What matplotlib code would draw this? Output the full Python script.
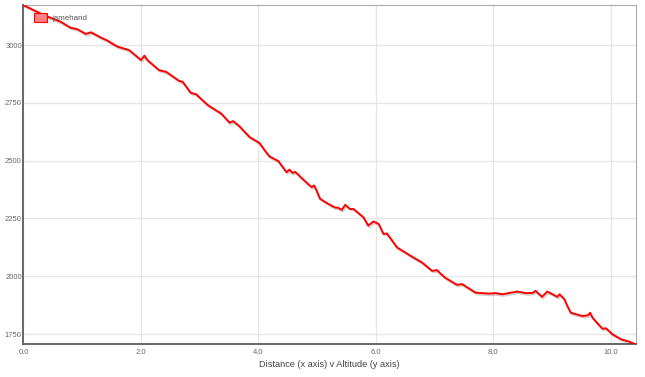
import matplotlib
matplotlib.use("Agg")
import matplotlib.pyplot as plt
import matplotlib.patheffects as pe
from matplotlib.patches import Patch

plt.rcParams['font.family'] = ['Liberation Sans', 'DejaVu Sans']

# distance (km) v altitude (m)
dist = [0.0, 0.10, 0.34, 0.63, 0.80, 0.92, 1.06, 1.15, 1.32, 1.43, 1.60, 1.80,
        2.00, 2.06, 2.11, 2.31, 2.43, 2.65, 2.71, 2.85, 2.94, 3.14, 3.37, 3.51,
        3.57, 3.68, 3.85, 4.02, 4.11, 4.19, 4.34, 4.48, 4.53, 4.58, 4.63, 4.79,
        4.91, 4.95, 4.99, 5.05, 5.19, 5.30, 5.36, 5.42, 5.48, 5.56, 5.62, 5.79,
        5.87, 5.96, 6.05, 6.13, 6.19, 6.36, 6.50, 6.64, 6.79, 6.96, 7.04, 7.10,
        7.18, 7.27, 7.38, 7.47, 7.70, 7.93, 8.04, 8.15, 8.41, 8.55, 8.67, 8.72,
        8.83, 8.92, 9.09, 9.13, 9.21, 9.26, 9.32, 9.52, 9.61, 9.65, 9.69, 9.78,
        9.86, 9.92, 10.03, 10.18, 10.32, 10.43]
alt = [3172, 3160, 3130, 3101, 3075, 3068, 3048, 3055, 3032, 3019, 2993, 2978,
       2935, 2954, 2935, 2891, 2884, 2845, 2841, 2793, 2787, 2740, 2703, 2664,
       2671, 2648, 2602, 2576, 2544, 2518, 2498, 2450, 2461, 2447, 2451, 2412,
       2385, 2393, 2371, 2335, 2313, 2298, 2296, 2287, 2309, 2291, 2291, 2255,
       2219, 2237, 2226, 2183, 2185, 2125, 2103, 2081, 2059, 2023, 2027, 2012,
       1994, 1980, 1963, 1966, 1929, 1925, 1927, 1922, 1934, 1927, 1928, 1937,
       1911, 1934, 1911, 1922, 1901, 1872, 1842, 1828, 1831, 1842, 1821, 1795,
       1773, 1775, 1749, 1727, 1717, 1705]

xticks = [0, 2, 4, 6, 8, 10]
xtick_labels = ["0.0", "2.0", "4.0", "6.0", "8.0", "10.0"]
yticks = [1750, 2000, 2250, 2500, 2750, 3000]

fig = plt.figure(figsize=(6.45, 3.77), dpi=100)
ax = fig.add_axes([0.0364, 0.0875, 0.9496, 0.8992])

ax.plot(dist, alt, color="#ff0000", lw=1.4, solid_joinstyle="round",
        path_effects=[pe.SimpleLineShadow(offset=(0.8, -1.2), shadow_color="#000000", alpha=0.18),
                      pe.Normal()], zorder=3)

ax.set_xlim(0, 10.43)
ax.set_ylim(1707, 3173)
ax.set_xticks(xticks)
ax.set_xticklabels(xtick_labels)
ax.set_yticks(yticks)
ax.tick_params(length=0, labelsize=5.5, colors="#666666")
ax.tick_params(axis="y", pad=1.2)
ax.tick_params(axis="x", pad=3.5)
ax.grid(True, color="#e6e6e6", lw=1)
ax.set_axisbelow(True)

for s in ["top", "right"]:
    ax.spines[s].set_color("#aaaaaa")
    ax.spines[s].set_linewidth(0.8)
for s in ["left", "bottom"]:
    ax.spines[s].set_color("#666666")
    ax.spines[s].set_linewidth(1.4)

ax.set_xlabel("Distance (x axis) v Altitude (y axis)", fontsize=6.6, color="#444444", labelpad=3)

leg = ax.legend(handles=[Patch(facecolor="#ff8080", edgecolor="#ff0000", lw=0.8, label="jamehand")],
                loc="upper left", bbox_to_anchor=(0.01, 0.99), frameon=False,
                fontsize=5.8, handlelength=1.6, handleheight=1.3, handletextpad=0.6,
                borderaxespad=0.2)
for t in leg.get_texts():
    t.set_color("#545454")

fig.savefig("out.png", dpi=100)
